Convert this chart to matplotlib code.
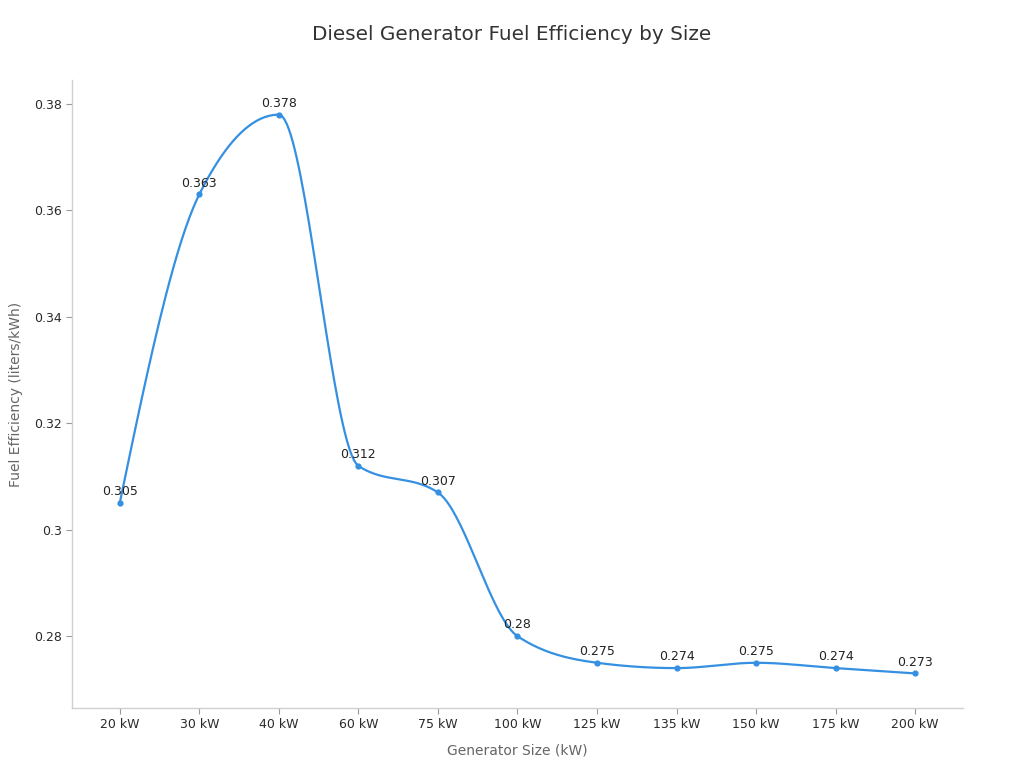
import numpy as np
import matplotlib
matplotlib.use('Agg')
from matplotlib import pyplot as plt

# Chart data
sizes = ['20 kW', '30 kW', '40 kW', '60 kW', '75 kW', '100 kW',
         '125 kW', '135 kW', '150 kW', '175 kW', '200 kW']
efficiency = [0.305, 0.363, 0.378, 0.312, 0.307, 0.28,
              0.275, 0.274, 0.275, 0.274, 0.273]
y_ticks = [0.28, 0.30, 0.32, 0.34, 0.36, 0.38]
y_tick_labels = ['0.28', '0.3', '0.32', '0.34', '0.36', '0.38']

line_color = '#3590e2'
text_color = '#333333'
axis_gray = '#666666'


def monotone_curve(xs, ys, n=40):
    # monotone cubic (same idea as d3 curveMonotoneX) for drawing the line
    xs = np.asarray(xs, float)
    ys = np.asarray(ys, float)
    h = np.diff(xs)
    s = np.diff(ys) / h
    m = np.zeros_like(ys)
    for i in range(1, len(ys) - 1):
        if s[i - 1] * s[i] <= 0:
            m[i] = 0
        else:
            p = (s[i - 1] * h[i] + s[i] * h[i - 1]) / (h[i - 1] + h[i])
            m[i] = (np.sign(s[i - 1]) + np.sign(s[i])) * min(abs(s[i - 1]), abs(s[i]), 0.5 * abs(p))
    m[0] = (3 * s[0] - m[1]) / 2
    m[-1] = (3 * s[-1] - m[-2]) / 2
    px, py = [], []
    for i in range(len(h)):
        t = np.linspace(0, 1, n, endpoint=False)
        h00 = 2 * t**3 - 3 * t**2 + 1
        h10 = t**3 - 2 * t**2 + t
        h01 = -2 * t**3 + 3 * t**2
        h11 = t**3 - t**2
        px.extend(xs[i] + t * h[i])
        py.extend(h00 * ys[i] + h10 * h[i] * m[i] + h01 * ys[i + 1] + h11 * h[i] * m[i + 1])
    px.append(xs[-1])
    py.append(ys[-1])
    return np.array(px), np.array(py)


plt.rcParams['font.family'] = ['DejaVu Sans']

fig = plt.figure(figsize=(10.24, 7.68), dpi=100)
ax = fig.add_axes([0.0703, 0.0781, 0.8701, 0.8177])

pos = np.arange(len(sizes))
cx, cy = monotone_curve(pos, efficiency)
ax.plot(cx, cy, color=line_color, linewidth=1.6)
ax.scatter(pos, efficiency, color=line_color, s=12, zorder=3)

for x, v in zip(pos, efficiency):
    ax.annotate('%g' % v, (x, v), textcoords='offset points', xytext=(0, 3.5),
                ha='center', va='bottom', fontsize=9, color='#222222')

ax.set_xlim(-0.6, len(sizes) - 0.4)
ax.set_ylim(0.2665, 0.3845)
ax.set_xticks(pos)
ax.set_xticklabels(sizes)
ax.set_yticks(y_ticks)
ax.set_yticklabels(y_tick_labels)
ax.tick_params(axis='both', labelsize=9, colors='#999999', labelcolor='#2a2a2a',
               length=4, width=0.8)

for side in ['top', 'right']:
    ax.spines[side].set_visible(False)
for side in ['left', 'bottom']:
    ax.spines[side].set_color('#d0d0d0')
    ax.spines[side].set_linewidth(1)

ax.set_xlabel('Generator Size (kW)', fontsize=10, color=axis_gray, labelpad=9)
ax.set_ylabel('Fuel Efficiency (liters/kWh)', fontsize=10, color=axis_gray, labelpad=8)
fig.suptitle('Diesel Generator Fuel Efficiency by Size', fontsize=14.4, color=text_color, y=0.968)

fig.savefig('out.png', dpi=100)
